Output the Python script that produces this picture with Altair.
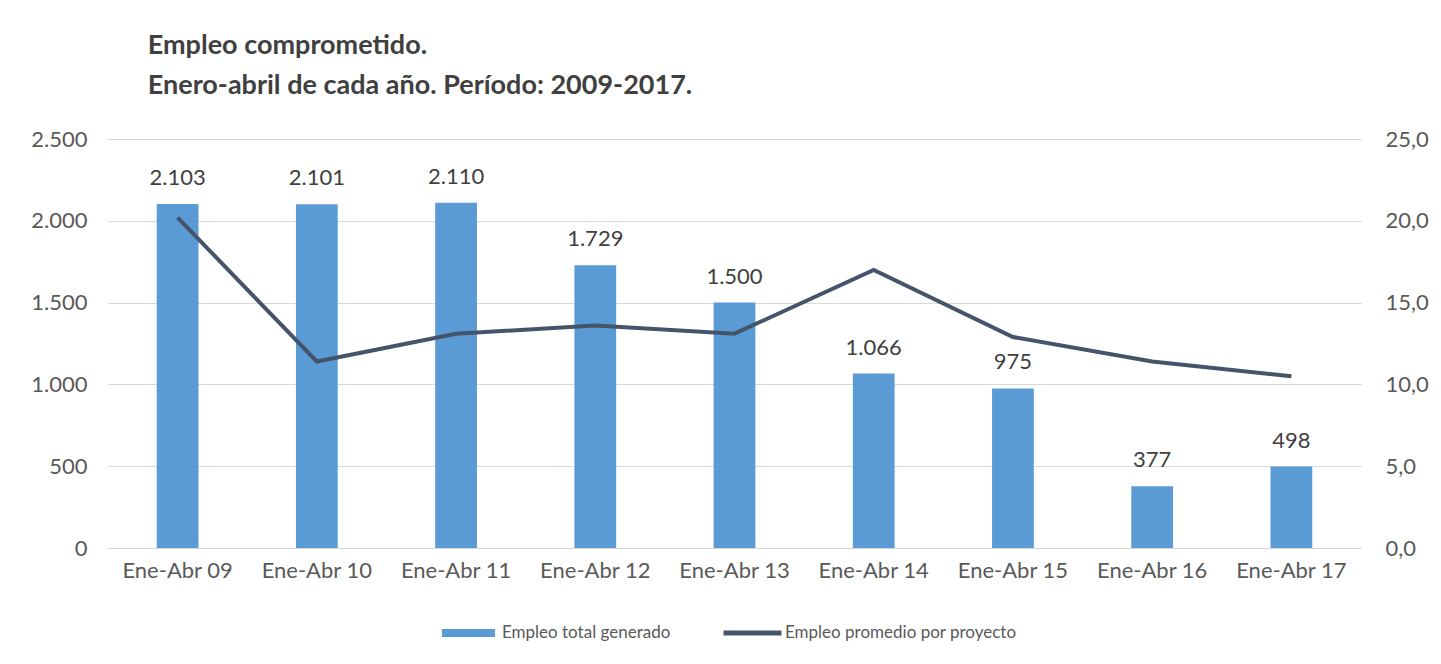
import altair as alt
import pandas as pd

categorias = ["Ene-Abr 09", "Ene-Abr 10", "Ene-Abr 11", "Ene-Abr 12", "Ene-Abr 13",
              "Ene-Abr 14", "Ene-Abr 15", "Ene-Abr 16", "Ene-Abr 17"]
empleo_total = [2103, 2101, 2110, 1729, 1500, 1066, 975, 377, 498]
empleo_promedio = [20.2, 11.4, 13.1, 13.6, 13.1, 17.0, 12.9, 11.4, 10.5]
ticks_izq = [0, 500, 1000, 1500, 2000, 2500]
ticks_der = [0, 5, 10, 15, 20, 25]
serie_barras = "Empleo total generado"
serie_linea = "Empleo promedio por proyecto"

df = pd.DataFrame({"cat": categorias, "total": empleo_total, "prom": empleo_promedio,
                   "serie_b": [serie_barras] * len(categorias),
                   "serie_l": [serie_linea] * len(categorias)})

FONT = "Lato"
GRAY = "#595959"

x = alt.X(
    "cat:N", sort=categorias, title=None,
    scale=alt.Scale(paddingInner=0.7, paddingOuter=0.35),
    axis=alt.Axis(labelAngle=0, labelFontSize=22, labelColor=GRAY, labelFont=FONT,
                  ticks=False, domainColor="#D9D9D9", domainWidth=1, labelPadding=12),
)

y_left = alt.Y(
    "total:Q", title=None, scale=alt.Scale(domain=[0, 2500]),
    axis=alt.Axis(values=ticks_izq,
                  labelExpr="replace(format(datum.value, ','), ',', '.')",
                  grid=True, gridColor="#D9D9D9", gridWidth=1, domain=False, ticks=False,
                  labelPadding=21, labelFontSize=22, labelColor=GRAY, labelFont=FONT),
)

base = alt.Chart(df)

bars = base.mark_bar().encode(
    x=x, y=y_left,
    color=alt.Color(
        "serie_b:N",
        scale=alt.Scale(domain=[serie_barras], range=["#5B9BD5"]),
        legend=alt.Legend(title=None, orient="none", legendX=334, legendY=484,
                          symbolType="M-1,-0.15H1V0.15H-1Z", symbolSize=2809,
                          symbolStrokeWidth=0, labelOffset=7, clipHeight=20,
                          labelLimit=400),
    ),
)

text = base.mark_text(baseline="bottom", dy=-14, fontSize=22, font=FONT, color="#404040").encode(
    x=x,
    y=y_left,
    text="label:N",
).transform_calculate(label="replace(format(datum.total, ','), ',', '.')")

line = base.mark_line(strokeWidth=4).encode(
    x=x,
    y=alt.Y("prom:Q", title=None, scale=alt.Scale(domain=[0, 25]),
            axis=alt.Axis(orient="right", values=ticks_der,
                          labelExpr="replace(format(datum.value, '.1f'), '.', ',')",
                          grid=False, domain=False, ticks=False, labelPadding=24,
                          labelFontSize=22, labelColor=GRAY, labelFont=FONT)),
    stroke=alt.Stroke(
        "serie_l:N",
        scale=alt.Scale(domain=[serie_linea], range=["#44546A"]),
        legend=alt.Legend(title=None, orient="none", legendX=613, legendY=484,
                          symbolType="stroke", symbolSize=3364, symbolStrokeWidth=5,
                          labelOffset=1, clipHeight=20, labelLimit=400),
    ),
)

chart = alt.layer(alt.layer(bars, text), line).resolve_scale(y="independent").properties(
    width=1253, height=409,
    padding={"left": 22, "top": 24, "right": 0, "bottom": 5},
    title=alt.TitleParams(
        ["Empleo comprometido.", "Enero-abril de cada año. Período: 2009-2017."],
        anchor="start", dx=117, fontSize=27, font=FONT, fontWeight="bold",
        color="#404040", lineHeight=40, offset=28,
    ),
).configure_view(stroke=None).configure_legend(
    labelFont=FONT, labelFontSize=17, labelColor=GRAY
)

chart.save("out.html", embed_options={"renderer": "svg", "actions": False})
